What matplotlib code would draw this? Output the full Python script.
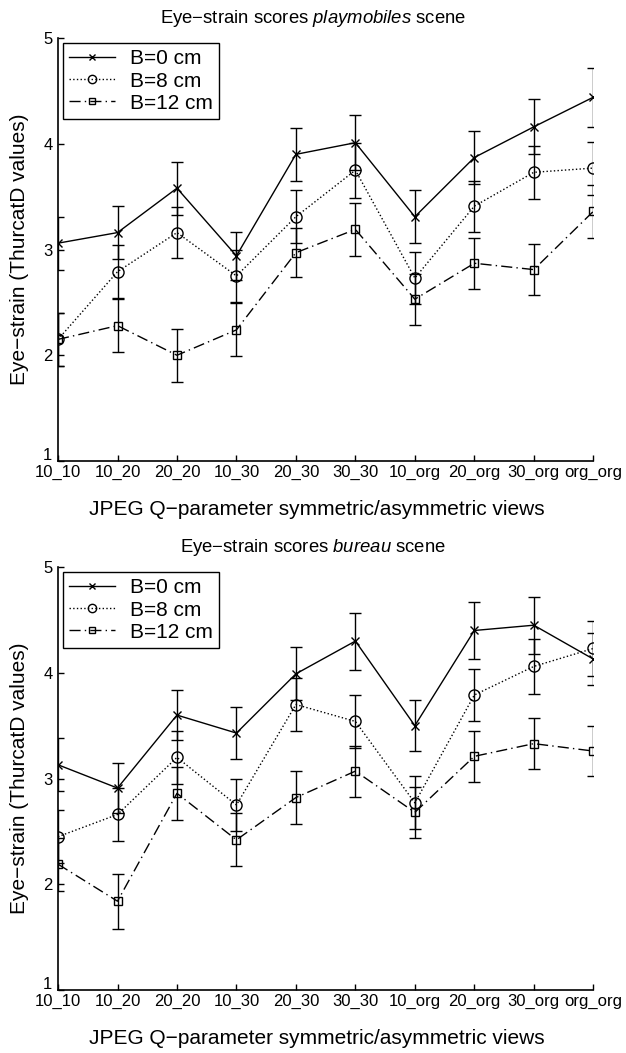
import numpy as np
import matplotlib
matplotlib.use('Agg')
import matplotlib.pyplot as plt
import matplotlib.transforms as mtransforms
from matplotlib.lines import Line2D

plt.rcParams['font.family'] = ['Liberation Sans', 'DejaVu Sans']
plt.rcParams['mathtext.fontset'] = 'custom'
plt.rcParams['mathtext.rm'] = 'Liberation Sans'
plt.rcParams['mathtext.it'] = 'Liberation Sans:italic'

views = ['10_10', '10_20', '20_20', '10_30', '20_30', '30_30',
         '10_org', '20_org', '30_org', 'org_org']

# playmobiles scene
play_b0 = [3.06, 3.16, 3.58, 2.94, 3.90, 4.01, 3.31, 3.87, 4.16, 4.44]
play_b0_err = [0.25, 0.25, 0.25, 0.23, 0.25, 0.26, 0.25, 0.25, 0.26, 0.28]
play_b8 = [2.15, 2.79, 3.16, 2.75, 3.31, 3.75, 2.73, 3.41, 3.73, 3.77]
play_b8_err = [0.25, 0.25, 0.24, 0.25, 0.25, 0.26, 0.25, 0.24, 0.25, 0.25]
play_b12 = [2.15, 2.28, 2.00, 2.24, 2.97, 3.19, 2.53, 2.87, 2.81, 3.36]
play_b12_err = [0.25, 0.25, 0.25, 0.25, 0.23, 0.25, 0.24, 0.24, 0.24, 0.25]

# bureau scene
bur_b0 = [3.13, 2.91, 3.60, 3.43, 3.99, 4.30, 3.50, 4.40, 4.45, 4.13]
bur_b0_err = [0.25, 0.24, 0.24, 0.245, 0.25, 0.27, 0.24, 0.27, 0.27, 0.25]
bur_b8 = [2.45, 2.66, 3.20, 2.75, 3.70, 3.54, 2.77, 3.79, 4.06, 4.23]
bur_b8_err = [0.25, 0.25, 0.25, 0.25, 0.25, 0.25, 0.25, 0.25, 0.26, 0.26]
bur_b12 = [2.19, 1.84, 2.86, 2.42, 2.82, 3.07, 2.68, 3.21, 3.33, 3.26]
bur_b12_err = [0.25, 0.26, 0.25, 0.25, 0.25, 0.24, 0.24, 0.24, 0.24, 0.24]

labels = ['B=0 cm', 'B=8 cm', 'B=12 cm']

x = np.arange(len(views))

styles = [dict(ls='-', marker='x', ms=5.5, lw=1.0),
          dict(ls=':', marker='o', ms=8, lw=1.0, mfc='none'),
          dict(ls=(0, (8, 3, 1, 3)), marker='s', ms=6, lw=1.0, mfc='none')]


def draw(ax, series, errs, scene):
    handles = []
    for y, e, st, lab in zip(series, errs, styles, labels):
        ax.errorbar(x, y, yerr=e, color='k', ecolor='k', elinewidth=1.0,
                    capsize=4, capthick=1.0, mew=1.0, **st)
        handles.append(Line2D([], [], color='k', mew=1.0, **st))
    ax.set_xlim(0, 9)
    ax.set_ylim(1, 5)
    ax.set_xticks(x)
    ax.set_xticklabels(views, fontsize=12)
    ax.set_yticks([1, 2, 3, 4, 5])
    ax.tick_params(direction='in', length=4, labelsize=12, width=1)
    ax.tick_params(axis='x', pad=3)
    ax.tick_params(axis='y', pad=4)
    # lift the "1" label a little, as in the original
    lab1 = ax.get_yticklabels()[0]
    lab1.set_transform(lab1.get_transform() +
                       mtransforms.ScaledTranslation(0, 5 / 72, ax.figure.dpi_scale_trans))
    ax.spines['top'].set_visible(False)
    ax.spines['right'].set_visible(False)
    ax.spines['left'].set_linewidth(1.2)
    ax.spines['bottom'].set_linewidth(1.2)
    ax.set_title('Eye\u2212strain scores $\\it{' + scene + '}$ scene', fontsize=13.3,
                 pad=11, x=0.477)
    ax.set_xlabel('JPEG Q\u2212parameter symmetric/asymmetric views', fontsize=15,
                  labelpad=14, x=0.484)
    ax.set_ylabel('Eye\u2212strain (ThurcatD values)', fontsize=15, labelpad=10)
    leg = ax.legend(handles, labels, loc='upper left', fontsize=15, fancybox=False,
                    framealpha=1, edgecolor='k', handlelength=2.2, borderpad=0.3,
                    labelspacing=0.15, handletextpad=0.7, borderaxespad=0.25,
                    markerscale=0.75)
    leg.get_frame().set_linewidth(1.0)


fig = plt.figure(figsize=(6.26, 10.53), dpi=100)
ax1 = fig.add_axes([0.0927, 0.5622, 0.855, 0.4017])
ax2 = fig.add_axes([0.0927, 0.0598, 0.855, 0.4017])

draw(ax1, [play_b0, play_b8, play_b12], [play_b0_err, play_b8_err, play_b12_err], 'playmobiles')
draw(ax2, [bur_b0, bur_b8, bur_b12], [bur_b0_err, bur_b8_err, bur_b12_err], 'bureau')

fig.savefig('out.png', dpi=100)
